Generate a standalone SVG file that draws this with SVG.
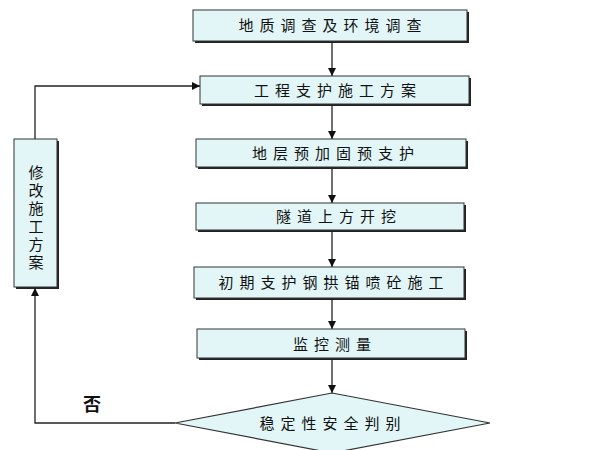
<svg xmlns="http://www.w3.org/2000/svg" width="600" height="450" viewBox="0 0 600 450">
<style>
.box{fill:#e2f6f7;stroke:#333;stroke-width:1}
.sh{fill:#222}
.t{font-family:"Noto Sans CJK SC","Noto Sans CJK JP",sans-serif;font-size:15px;fill:#111;letter-spacing:6px}
.v{font-family:"Noto Sans CJK SC","Noto Sans CJK JP",sans-serif;font-size:15px;fill:#111;letter-spacing:3px}
.ln{fill:none;stroke:#222;stroke-width:1.3}
</style>
<defs>
<marker id="ah" viewBox="0 0 10 10" refX="10" refY="5" markerWidth="8" markerHeight="8" markerUnits="userSpaceOnUse" orient="auto">
<path d="M0,0 L10,5 L0,10 z" fill="#111"/>
</marker>
</defs>
<rect width="600" height="450" fill="#fff"/>
<g id="connectors">
<line class="ln" x1="332" y1="42" x2="332" y2="76" marker-end="url(#ah)"/>
<line class="ln" x1="332" y1="105" x2="332" y2="139" marker-end="url(#ah)"/>
<line class="ln" x1="332" y1="168" x2="332" y2="203" marker-end="url(#ah)"/>
<line class="ln" x1="332" y1="231" x2="332" y2="267" marker-end="url(#ah)"/>
<line class="ln" x1="332" y1="299" x2="332" y2="329" marker-end="url(#ah)"/>
<line class="ln" x1="332" y1="359" x2="332" y2="393" marker-end="url(#ah)"/>
<polyline class="ln" points="175,423 35,423 35,288" marker-end="url(#ah)"/>
<polyline class="ln" points="35,139 35,86 200,86" marker-end="url(#ah)"/>
</g>
<g id="n1">
<rect class="sh" x="195" y="12" width="274" height="31"/>
<rect class="box" x="193" y="10" width="274" height="31"/>
<text class="t" x="333" y="31" text-anchor="middle">地质调查及环境调查</text>
</g>
<g id="n2">
<rect class="sh" x="202" y="78" width="269" height="28"/>
<rect class="box" x="200" y="76" width="269" height="28"/>
<text class="t" x="338" y="96" text-anchor="middle">工程支护施工方案</text>
</g>
<g id="n3">
<rect class="sh" x="198" y="141" width="270" height="28"/>
<rect class="box" x="196" y="139" width="270" height="28"/>
<text class="t" x="336" y="159" text-anchor="middle">地层预加固预支护</text>
</g>
<g id="n4">
<rect class="sh" x="198" y="205" width="268" height="27"/>
<rect class="box" x="196" y="203" width="268" height="27"/>
<text class="t" x="339" y="222" text-anchor="middle">隧道上方开挖</text>
</g>
<g id="n5">
<rect class="sh" x="196" y="269" width="270" height="31"/>
<rect class="box" x="194" y="267" width="270" height="31"/>
<text class="t" x="334" y="288" text-anchor="middle">初期支护钢拱锚喷砼施工</text>
</g>
<g id="n6">
<rect class="sh" x="199" y="331" width="268" height="29"/>
<rect class="box" x="197" y="329" width="268" height="29"/>
<text class="t" x="335" y="350" text-anchor="middle">监控测量</text>
</g>
<g id="n7">
<polygon points="332,393 490,423 332,453 175,423" fill="#e2f6f7" stroke="#333" stroke-width="1.2"/>
<text class="t" x="333" y="429" text-anchor="middle">稳定性安全判别</text>
</g>
<g id="n8">
<rect class="sh" x="16" y="141" width="43" height="148"/>
<rect class="box" x="14" y="139" width="43" height="148"/>
<text class="v" x="36" y="165" writing-mode="vertical-rl">修改施工方案</text>
</g>
<text x="92" y="411" text-anchor="middle" font-family="Noto Sans CJK SC,sans-serif" font-size="18" font-weight="bold" fill="#111">否</text>
</svg>
